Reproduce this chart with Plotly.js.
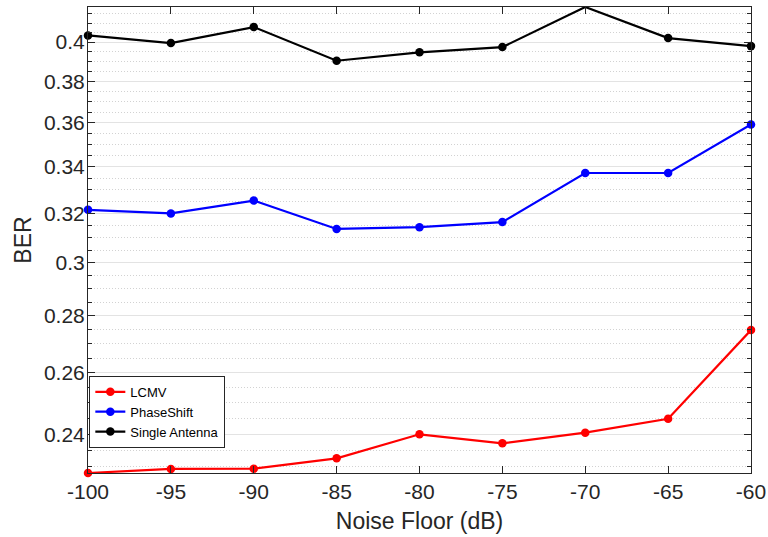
<!DOCTYPE html>
<html>
<head>
<meta charset="utf-8">
<script src="https://cdn.plot.ly/plotly-3.0.1.min.js"></script>
<style>
html,body{margin:0;padding:0;background:#fff;}
#chart{width:768px;height:537px;}
</style>
</head>
<body>
<div id="chart"></div>
<script>
// Data
const noiseFloor = [-100, -95, -90, -85, -80, -75, -70, -65, -60];
const berLCMV = [0.2282, 0.2294, 0.2295, 0.2326, 0.2400, 0.2372, 0.2405, 0.2449, 0.2749];
const berPhaseShift = [0.3215, 0.3200, 0.3254, 0.3136, 0.3143, 0.3164, 0.3373, 0.3373, 0.3593];
const berSingle = [0.4035, 0.3995, 0.4079, 0.3904, 0.3947, 0.3974, 0.4187, 0.4021, 0.3979];
const seriesNames = ['LCMV', 'PhaseShift', 'Single Antenna'];
const yTickVals = [0.24, 0.26, 0.28, 0.30, 0.32, 0.34, 0.36, 0.38, 0.40];
const yTickText = ['0.24', '0.26', '0.28', '0.3', '0.32', '0.34', '0.36', '0.38', '0.4'];
const xTickVals = [-100, -95, -90, -85, -80, -75, -70, -65, -60];
const xTickText = ['-100', '-95', '-90', '-85', '-80', '-75', '-70', '-65', '-60'];

const colors = ['#ff0000', '#0000ff', '#000000'];
const allY = berLCMV.concat(berPhaseShift, berSingle);
const yMin = Math.min(...allY), yMax = Math.max(...allY);

const traces = [berLCMV, berPhaseShift, berSingle].map((ys, i) => ({
  x: noiseFloor, y: ys, name: seriesNames[i], type: 'scatter', mode: 'lines+markers',
  line: {color: colors[i], width: 2.2},
  marker: {color: colors[i], size: 8.5},
  cliponaxis: false
}));

const axisFont = {family: 'Liberation Sans, Arial, sans-serif', size: 21, color: '#262626'};
const layout = {
  width: 768, height: 537,
  margin: {l: 88, r: 17, t: 7, b: 64},
  paper_bgcolor: '#ffffff', plot_bgcolor: '#ffffff',
  showlegend: true,
  legend: {
    x: 0.002, y: 0.2085, xanchor: 'left', yanchor: 'top',
    bgcolor: '#ffffff', bordercolor: '#262626', borderwidth: 1,
    font: {family: 'Liberation Sans, Arial, sans-serif', size: 13, color: '#000000'},
    itemwidth: 30, tracegroupgap: 0
  },
  xaxis: {
    range: [noiseFloor[0], noiseFloor[noiseFloor.length - 1]],
    tickmode: 'array', tickvals: xTickVals, ticktext: xTickText,
    ticklabeloverflow: 'allow',
    ticks: 'inside', ticklen: 7, tickwidth: 1, tickcolor: '#262626',
    showline: true, linecolor: '#262626', linewidth: 1, mirror: 'ticks',
    showgrid: false, zeroline: false,
    tickfont: axisFont,
    title: {text: 'Noise Floor (dB)', font: {family: 'Liberation Sans, Arial, sans-serif', size: 23, color: '#262626'}, standoff: 10}
  },
  yaxis: {
    type: 'log',
    range: [Math.log10(yMin), Math.log10(yMax)],
    tickmode: 'array', tickvals: yTickVals, ticktext: yTickText,
    ticklabelstandoff: -2,
    ticks: 'inside', ticklen: 7, tickwidth: 1, tickcolor: '#262626',
    showline: true, linecolor: '#262626', linewidth: 1, mirror: 'ticks',
    showgrid: true, gridcolor: '#e3e3e3', gridwidth: 1, zeroline: false,
    minor: {dtick: 'L0.005', tick0: 0, ticks: 'inside', ticklen: 4, tickcolor: '#262626',
            showgrid: true, gridcolor: '#d2d2d2', griddash: '1px,2px', gridwidth: 1},
    tickfont: axisFont,
    title: {text: 'BER', font: {family: 'Liberation Sans, Arial, sans-serif', size: 23, color: '#262626'}, standoff: 5}
  }
};
Plotly.newPlot('chart', traces, layout, {displayModeBar: false, staticPlot: true});
</script>
</body>
</html>
